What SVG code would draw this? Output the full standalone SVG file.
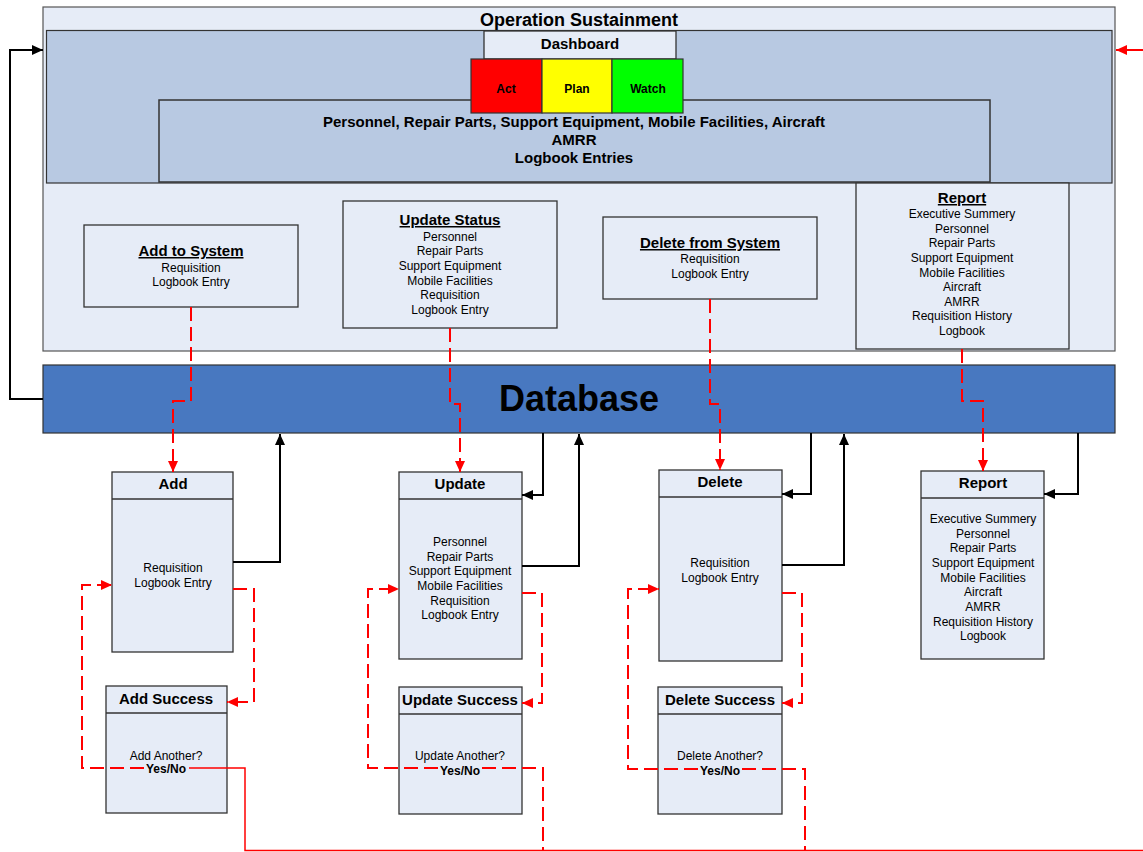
<svg xmlns="http://www.w3.org/2000/svg" width="1143" height="852" viewBox="0 0 1143 852">
  <defs>
    <marker id="arrowBlack" markerUnits="userSpaceOnUse" markerWidth="12" markerHeight="10" refX="11" refY="5" orient="auto">
      <path d="M0,0 L11,5 L0,10 z" fill="#000"/>
    </marker>
    <marker id="arrowRed" markerUnits="userSpaceOnUse" markerWidth="12" markerHeight="10" refX="11" refY="5" orient="auto">
      <path d="M0,0 L11,5 L0,10 z" fill="#f00"/>
    </marker>
    <style>
      text { font-family: "Liberation Sans", Arial, sans-serif; fill: #000; }
      .panel { fill: #e6ecf7; stroke: #555; stroke-width: 1.2; }
      .blue { fill: #b8c9e2; stroke: #333; stroke-width: 1.2; }
      .box { fill: #e6ecf7; stroke: #333; stroke-width: 1.3; }
      .div { stroke: #333; stroke-width: 1.3; }
      .title { font-size: 15px; font-weight: bold; text-anchor: middle; }
      .utitle { font-size: 15px; font-weight: bold; text-anchor: middle; text-decoration: underline; }
      .item { font-size: 12px; text-anchor: middle; }
      .bold12 { font-size: 12px; font-weight: bold; text-anchor: middle; }
      .blk { fill: none; stroke: #000; stroke-width: 2; }
      .red { fill: none; stroke: #f00; stroke-width: 2; stroke-dasharray: 14 6; }
      .redsolid { fill: none; stroke: #f00; stroke-width: 1.5; }
    </style>
  </defs>

  <!-- Operation Sustainment container -->
  <g id="operation-sustainment">
    <rect class="panel" x="43" y="7" width="1072" height="344"/>
    <text x="579" y="26" style="font-size:18px;font-weight:bold;text-anchor:middle">Operation Sustainment</text>
    <rect class="blue" x="46.5" y="30.5" width="1065.5" height="152.5"/>
  </g>

  <g id="dashboard">
    <rect class="box" x="484" y="31" width="192" height="28"/>
    <text class="title" x="580" y="49">Dashboard</text>
  </g>

  <g id="status-data">
    <rect class="blue" x="159" y="100" width="831" height="82" style="stroke-width:1.5"/>
    <text x="574" y="127" style="font-size:15px;font-weight:bold;text-anchor:middle">Personnel, Repair Parts, Support Equipment, Mobile Facilities, Aircraft</text>
    <text x="574" y="145" style="font-size:15px;font-weight:bold;text-anchor:middle">AMRR</text>
    <text x="574" y="163" style="font-size:15px;font-weight:bold;text-anchor:middle">Logbook Entries</text>
  </g>

  <g id="act">
    <rect x="471" y="59" width="71" height="54" fill="#ff0000" stroke="#333" stroke-width="1.2"/>
    <text class="bold12" x="506" y="93">Act</text>
  </g>
  <g id="plan">
    <rect x="542" y="59" width="70" height="54" fill="#ffff00" stroke="#333" stroke-width="1.2"/>
    <text class="bold12" x="577" y="93">Plan</text>
  </g>
  <g id="watch">
    <rect x="612" y="59" width="71" height="54" fill="#00ff00" stroke="#333" stroke-width="1.2"/>
    <text class="bold12" x="648" y="93">Watch</text>
  </g>

  <g id="add-to-system">
    <rect class="box" x="84" y="225" width="214" height="82"/>
    <text class="utitle" x="191" y="256">Add to System</text>
    <text class="item" x="191" y="272">Requisition</text>
    <text class="item" x="191" y="286">Logbook Entry</text>
  </g>

  <g id="update-status">
    <rect class="box" x="343" y="201" width="214" height="127"/>
    <text class="utitle" x="450" y="225">Update Status</text>
    <text class="item" x="450" y="241">Personnel</text>
    <text class="item" x="450" y="255">Repair Parts</text>
    <text class="item" x="450" y="270">Support Equipment</text>
    <text class="item" x="450" y="285">Mobile Facilities</text>
    <text class="item" x="450" y="299">Requisition</text>
    <text class="item" x="450" y="314">Logbook Entry</text>
  </g>

  <g id="delete-from-system">
    <rect class="box" x="603" y="217" width="214" height="82"/>
    <text class="utitle" x="710" y="248">Delete from System</text>
    <text class="item" x="710" y="263">Requisition</text>
    <text class="item" x="710" y="278">Logbook Entry</text>
  </g>

  <g id="report-menu">
    <rect class="box" x="856" y="183" width="213" height="166"/>
    <text class="utitle" x="962" y="203">Report</text>
    <text class="item" x="962" y="218">Executive Summery</text>
    <text class="item" x="962" y="233">Personnel</text>
    <text class="item" x="962" y="247">Repair Parts</text>
    <text class="item" x="962" y="262">Support Equipment</text>
    <text class="item" x="962" y="277">Mobile Facilities</text>
    <text class="item" x="962" y="291">Aircraft</text>
    <text class="item" x="962" y="306">AMRR</text>
    <text class="item" x="962" y="320">Requisition History</text>
    <text class="item" x="962" y="335">Logbook</text>
  </g>

  <g id="database">
    <rect x="43" y="365" width="1072" height="68" fill="#4878c0" stroke="#333" stroke-width="1.2"/>
    <text x="579" y="411" style="font-size:36px;font-weight:bold;text-anchor:middle">Database</text>
  </g>

  <g id="add">
    <rect class="box" x="112" y="472" width="121" height="180"/>
    <line class="div" x1="112" y1="499" x2="233" y2="499"/>
    <text class="title" x="173" y="489">Add</text>
    <text class="item" x="173" y="572">Requisition</text>
    <text class="item" x="173" y="587">Logbook Entry</text>
  </g>

  <g id="update">
    <rect class="box" x="399" y="472" width="123" height="187"/>
    <line class="div" x1="399" y1="499" x2="522" y2="499"/>
    <text class="title" x="460" y="489">Update</text>
    <text class="item" x="460" y="546">Personnel</text>
    <text class="item" x="460" y="561">Repair Parts</text>
    <text class="item" x="460" y="575">Support Equipment</text>
    <text class="item" x="460" y="590">Mobile Facilities</text>
    <text class="item" x="460" y="605">Requisition</text>
    <text class="item" x="460" y="619">Logbook Entry</text>
  </g>

  <g id="delete">
    <rect class="box" x="659" y="470" width="123" height="191"/>
    <line class="div" x1="659" y1="497" x2="782" y2="497"/>
    <text class="title" x="720" y="487">Delete</text>
    <text class="item" x="720" y="567">Requisition</text>
    <text class="item" x="720" y="582">Logbook Entry</text>
  </g>

  <g id="report">
    <rect class="box" x="921" y="471" width="123" height="188"/>
    <line class="div" x1="921" y1="498" x2="1044" y2="498"/>
    <text class="title" x="983" y="488">Report</text>
    <text class="item" x="983" y="523">Executive Summery</text>
    <text class="item" x="983" y="538">Personnel</text>
    <text class="item" x="983" y="552">Repair Parts</text>
    <text class="item" x="983" y="567">Support Equipment</text>
    <text class="item" x="983" y="582">Mobile Facilities</text>
    <text class="item" x="983" y="596">Aircraft</text>
    <text class="item" x="983" y="611">AMRR</text>
    <text class="item" x="983" y="626">Requisition History</text>
    <text class="item" x="983" y="640">Logbook</text>
  </g>

  <g id="add-success">
    <rect class="box" x="106" y="686" width="121" height="127"/>
    <line class="div" x1="106" y1="713" x2="227" y2="713"/>
    <text class="title" x="166" y="704">Add Success</text>
    <text class="item" x="166" y="760">Add Another?</text>
    <text class="bold12" x="166" y="773">Yes/No</text>
  </g>

  <g id="update-success">
    <rect class="box" x="399" y="687" width="123" height="127"/>
    <line class="div" x1="399" y1="714" x2="522" y2="714"/>
    <text class="title" x="460" y="705">Update Success</text>
    <text class="item" x="460" y="760">Update Another?</text>
    <text class="bold12" x="460" y="775">Yes/No</text>
  </g>

  <g id="delete-success">
    <rect class="box" x="658" y="687" width="124" height="127"/>
    <line class="div" x1="658" y1="714" x2="782" y2="714"/>
    <text class="title" x="720" y="705">Delete Success</text>
    <text class="item" x="720" y="760">Delete Another?</text>
    <text class="bold12" x="720" y="775">Yes/No</text>
  </g>

  <g id="connectors">
    <!-- database back to the dashboard -->
    <path class="blk" d="M43,399 H10 V50 H43" marker-end="url(#arrowBlack)"/>
    <path class="redsolid" d="M1143,50 H1116" style="stroke-width:2" marker-end="url(#arrowRed)"/>

    <!-- menu entries down to the forms -->
    <path class="red" d="M191,307 V401 H173 V472" marker-end="url(#arrowRed)"/>
    <path class="red" d="M450,328 V404 H460 V472" marker-end="url(#arrowRed)"/>
    <path class="red" d="M710,299 V404 H720 V470" marker-end="url(#arrowRed)"/>
    <path class="red" d="M962,349 V401 H983 V471" marker-end="url(#arrowRed)"/>

    <!-- forms writing to the database -->
    <path class="blk" d="M233,562 H280 V434" marker-end="url(#arrowBlack)"/>
    <path class="blk" d="M543,433 V495 H522" marker-end="url(#arrowBlack)"/>
    <path class="blk" d="M522,566 H579 V434" marker-end="url(#arrowBlack)"/>
    <path class="blk" d="M811,433 V494 H782" marker-end="url(#arrowBlack)"/>
    <path class="blk" d="M782,565 H844 V434" marker-end="url(#arrowBlack)"/>
    <path class="blk" d="M1078,433 V494 H1044" marker-end="url(#arrowBlack)"/>

    <!-- forms to success dialogs -->
    <path class="red" d="M233,589 H254 V702 H227" marker-end="url(#arrowRed)"/>
    <path class="red" d="M522,593 H542 V703 H522" marker-end="url(#arrowRed)"/>
    <path class="red" d="M782,593 H802 V703 H782" marker-end="url(#arrowRed)"/>

    <!-- "Yes" loops back to the form -->
    <path class="red" d="M144,768 H82 V585 H112" marker-end="url(#arrowRed)"/>
    <path class="red" d="M438,768 H368 V589 H399" marker-end="url(#arrowRed)"/>
    <path class="red" d="M698,769 H628 V589 H659" marker-end="url(#arrowRed)"/>

    <!-- "No" exits -->
    <path class="redsolid" d="M189,768 H245 V850.5 H1143"/>
    <path class="red" d="M482,768 H543 V851"/>
    <path class="red" d="M742,769 H805 V851"/>
  </g>
</svg>
